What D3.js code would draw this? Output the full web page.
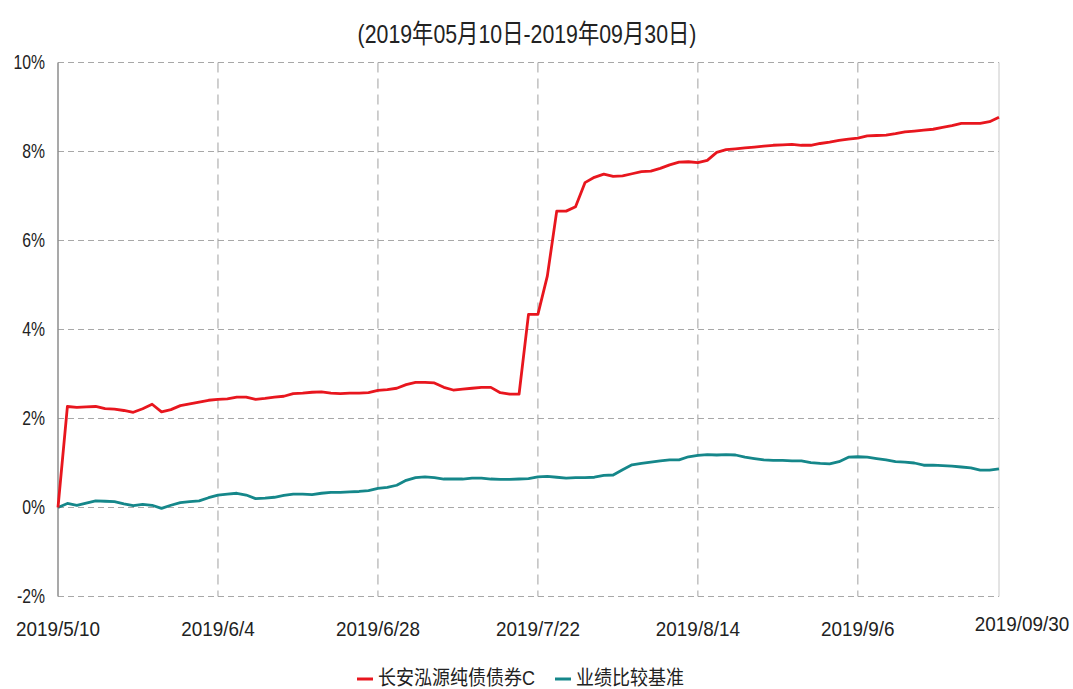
<!DOCTYPE html>
<html>
<head>
<meta charset="utf-8">
<script src="https://cdn.jsdelivr.net/npm/d3@7"></script>
<style>
  html, body { margin: 0; padding: 0; background: #fff; }
  text { font-family: "Liberation Sans", Arial, "Noto Sans CJK SC", sans-serif; fill: #222; }
</style>
</head>
<body>
<script>
// chart data (one value per trading day, index 0..100)
var title = '(2019年05月10日-2019年09月30日)';
var seriesNames = ['长安泓源纯债债券C', '业绩比较基准'];
var seriesColors = ['#e8161e', '#15878a'];

var fundValues = [
  0, 2.27, 2.25, 2.26, 2.27, 2.22, 2.21, 2.18, 2.14, 2.22,
  2.32, 2.15, 2.20, 2.29, 2.33, 2.37, 2.41, 2.43, 2.44, 2.48,
  2.48, 2.43, 2.45, 2.48, 2.50, 2.56, 2.57, 2.59, 2.60, 2.57,
  2.56, 2.57, 2.57, 2.58, 2.63, 2.65, 2.68, 2.76, 2.81, 2.81,
  2.80, 2.70, 2.64, 2.66, 2.68, 2.70, 2.70, 2.58, 2.55, 2.55,
  4.34, 4.34, 5.20, 6.66, 6.66, 6.76, 7.30, 7.42, 7.49, 7.44,
  7.45, 7.50, 7.55, 7.56, 7.62, 7.70, 7.76, 7.77, 7.75, 7.80,
  7.98, 8.04, 8.06, 8.08, 8.10, 8.12, 8.14, 8.15, 8.16, 8.14,
  8.14, 8.18, 8.21, 8.25, 8.28, 8.30, 8.35, 8.36, 8.37, 8.40,
  8.44, 8.46, 8.48, 8.50, 8.54, 8.58, 8.63, 8.63, 8.63, 8.67,
  8.77
];

var benchValues = [
  0, 0.09, 0.05, 0.10, 0.15, 0.14, 0.13, 0.08, 0.04, 0.07,
  0.05, -0.02, 0.05, 0.11, 0.13, 0.15, 0.22, 0.28, 0.30, 0.32,
  0.28, 0.20, 0.21, 0.23, 0.27, 0.30, 0.30, 0.29, 0.32, 0.34,
  0.34, 0.35, 0.36, 0.38, 0.43, 0.45, 0.50, 0.61, 0.67, 0.69,
  0.67, 0.64, 0.64, 0.64, 0.66, 0.66, 0.64, 0.63, 0.63, 0.64,
  0.65, 0.69, 0.70, 0.68, 0.66, 0.67, 0.67, 0.68, 0.72, 0.73,
  0.85, 0.96, 0.99, 1.02, 1.05, 1.07, 1.07, 1.14, 1.17, 1.19,
  1.18, 1.19, 1.18, 1.13, 1.10, 1.07, 1.06, 1.06, 1.05, 1.05,
  1.01, 0.99, 0.98, 1.03, 1.13, 1.14, 1.13, 1.10, 1.07, 1.03,
  1.02, 1.00, 0.95, 0.95, 0.94, 0.93, 0.91, 0.89, 0.84, 0.84,
  0.87
];

var xTickIndex = [0, 17, 34, 51, 68, 85, 100];
var xTickLabels = ['2019/5/10', '2019/6/4', '2019/6/28', '2019/7/22', '2019/8/14', '2019/9/6', '2019/09/30'];
var yTicks = [-2, 0, 2, 4, 6, 8, 10];

// sizes
var width = 1073;
var height = 689;
var plot = { left: 58, right: 999, top: 62.5, bottom: 596.5 };

var svg = d3.select('body').append('svg')
  .attr('width', width)
  .attr('height', height);

var x = d3.scaleLinear().domain([0, fundValues.length - 1]).range([plot.left, plot.right]);
var y = d3.scaleLinear().domain([-2, 10]).range([plot.bottom, plot.top]);

// condensed text helper: the picture's text is squeezed sideways
function label(parent, px, py, str, size, anchor, sx) {
  return parent.append('g')
    .attr('transform', 'translate(' + px + ',' + py + ')')
    .append('text')
    .attr('transform', 'scale(' + sx + ',1)')
    .attr('text-anchor', anchor)
    .style('font-size', size + 'px')
    .text(str);
}

// horizontal grid
svg.append('g').selectAll('line')
  .data(yTicks)
  .enter().append('line')
  .attr('x1', plot.left).attr('x2', plot.right)
  .attr('y1', function (d) { return y(d); })
  .attr('y2', function (d) { return y(d); })
  .attr('stroke', '#a8a8a8')
  .attr('stroke-width', 1)
  .attr('stroke-dasharray', '6,4');

// vertical grid (inner ticks only)
svg.append('g').selectAll('line')
  .data(xTickIndex.slice(1, -1))
  .enter().append('line')
  .attr('x1', function (d) { return x(d); })
  .attr('x2', function (d) { return x(d); })
  .attr('y1', plot.top).attr('y2', plot.bottom)
  .attr('stroke', '#a0a0a0')
  .attr('stroke-width', 1)
  .attr('stroke-dasharray', '10,6');

// left axis and right border
svg.append('line')
  .attr('x1', plot.left).attr('x2', plot.left)
  .attr('y1', plot.top).attr('y2', plot.bottom)
  .attr('stroke', '#8c8c8c').attr('stroke-width', 1.5);
svg.append('line')
  .attr('x1', plot.right).attr('x2', plot.right)
  .attr('y1', plot.top).attr('y2', plot.bottom)
  .attr('stroke', '#c8c8c8').attr('stroke-width', 1);

// y labels
yTicks.forEach(function (d) {
  label(svg, 45, y(d) + 6, d + '%', 21, 'end', 0.75);
});

// x labels
xTickIndex.forEach(function (d, i) {
  var last = i === xTickIndex.length - 1;
  label(svg, last ? 1022 : x(d), last ? 631 : 636, xTickLabels[i], 21, 'middle', 0.9);
});

// lines
var line = d3.line()
  .x(function (d, i) { return x(i); })
  .y(function (d) { return y(d); });

[benchValues, fundValues].forEach(function (vals, k) {
  svg.append('path')
    .datum(vals)
    .attr('fill', 'none')
    .attr('stroke', seriesColors[1 - k])
    .attr('stroke-width', 2.8)
    .attr('stroke-linejoin', 'round')
    .attr('d', line);
});

// title
label(svg, 527, 43, title, 26, 'middle', 0.82);

// legend
var legendX = [357, 555];
seriesNames.forEach(function (name, i) {
  svg.append('line')
    .attr('x1', legendX[i]).attr('x2', legendX[i] + 16)
    .attr('y1', 679).attr('y2', 679)
    .attr('stroke', seriesColors[i])
    .attr('stroke-width', 3);
  label(svg, legendX[i] + 21, 685, name, 20, 'start', 0.9);
});
</script>
</body>
</html>
